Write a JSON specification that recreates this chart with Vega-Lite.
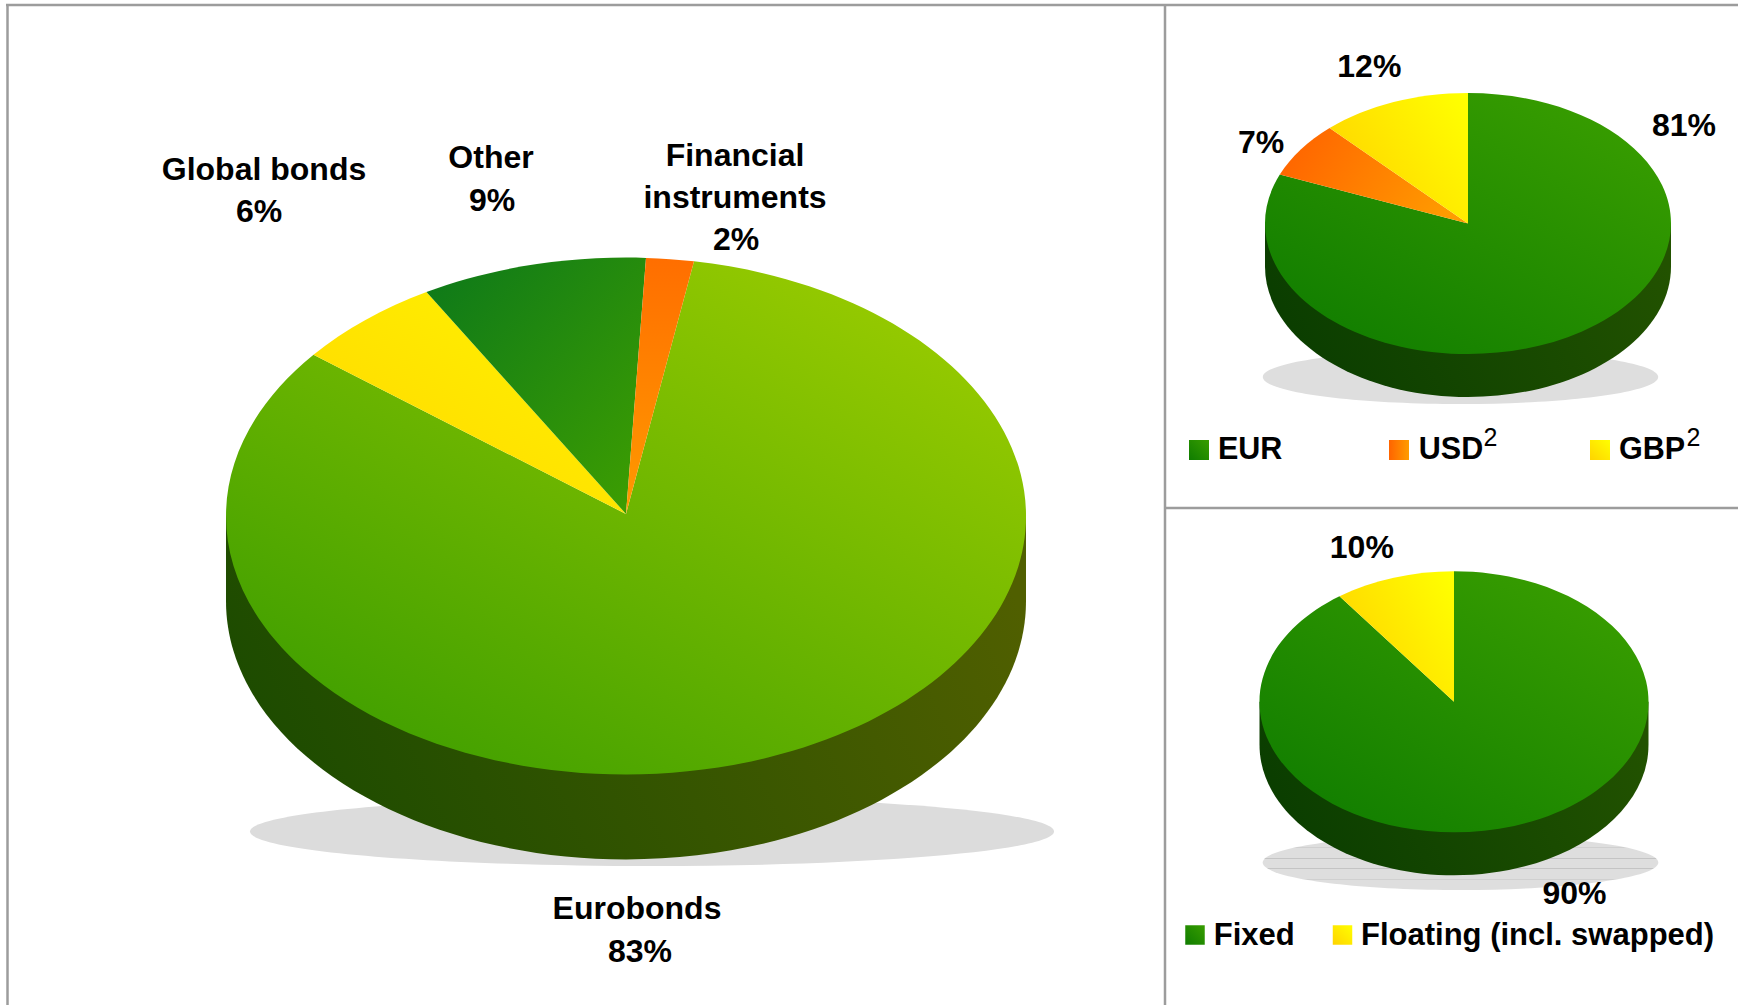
{"$schema":"https://vega.github.io/schema/vega-lite/v6.json","width":1738,"height":1005,"autosize":"none","padding":0,"background":"white","view":{"stroke":null},
"data":{"values":[
{"panel":"Instrument","slice":"Eurobonds","share":0.83},
{"panel":"Instrument","slice":"Global bonds","share":0.06},
{"panel":"Instrument","slice":"Other","share":0.09},
{"panel":"Instrument","slice":"Financial\ninstruments","share":0.02},
{"panel":"Currency","slice":"EUR","share":0.81},
{"panel":"Currency","slice":"USD","share":0.07},
{"panel":"Currency","slice":"GBP","share":0.12},
{"panel":"Rate","slice":"Fixed","share":0.90},
{"panel":"Rate","slice":"Floating (incl. swapped)","share":0.10}
]},
"layer":[
{"data":{"values":[{"part":"shadow"}]},"mark":{"type":"point","filled":true,"opacity":1,"strokeWidth":0,"fill":"#dcdcdc","size":646416,"shape":"M-1,0A1,.0858 0 1 0 1,0A1,.0858 0 1 0 -1,0Z"},"encoding":{"x":{"datum":652,"scale":{"domain":[0,1738]},"axis":null},"y":{"datum":831.5,"scale":{"domain":[1005,0]},"axis":null}}},
{"data":{"values":[{"part":"side"}]},"mark":{"type":"point","filled":true,"opacity":1,"strokeWidth":0,"size":640000,"shape":"M-1,0L-1,.2125A1,.646 0 0 0 1,.2125L1,0Z","fill":{"gradient":"linear","x1":0,"y1":0.5,"x2":1,"y2":0.3,"stops":[{"offset":0,"color":"#1c4b00"},{"offset":1,"color":"#505f00"}]}},"encoding":{"x":{"datum":626,"scale":{"domain":[0,1738]},"axis":null},"y":{"datum":516,"scale":{"domain":[1005,0]},"axis":null}}},
{"transform":[{"filter":{"field":"slice","equal":"Eurobonds"}}],"mark":{"type":"point","filled":true,"opacity":1,"strokeWidth":0,"size":640000,"shape":"M0,-.005L-.78125,-.4032A1,.646 0 1 0 .17,-.6366Z","fill":{"gradient":"linear","x1":0.1,"y1":1,"x2":0.9,"y2":0.1,"stops":[{"offset":0,"color":"#3a9c00"},{"offset":1,"color":"#98cb00"}]}},"encoding":{"x":{"datum":626,"scale":{"domain":[0,1738]},"axis":null},"y":{"datum":516,"scale":{"domain":[1005,0]},"axis":null}}},
{"transform":[{"filter":{"field":"slice","equal":"Global bonds"}}],"mark":{"type":"point","filled":true,"opacity":1,"strokeWidth":0,"size":640000,"shape":"M0,-.005L-.78125,-.4032A1,.646 0 0 1 -.4988,-.5599Z","fill":{"gradient":"linear","x1":0,"y1":1,"x2":1,"y2":0,"stops":[{"offset":0,"color":"#ffd500"},{"offset":1,"color":"#fff500"}]}},"encoding":{"x":{"datum":626,"scale":{"domain":[0,1738]},"axis":null},"y":{"datum":516,"scale":{"domain":[1005,0]},"axis":null}}},
{"transform":[{"filter":{"field":"slice","equal":"Other"}}],"mark":{"type":"point","filled":true,"opacity":1,"strokeWidth":0,"size":640000,"shape":"M0,-.005L-.4988,-.5599A1,.646 0 0 1 .05,-.6452Z","fill":{"gradient":"linear","x1":0,"y1":0,"x2":1,"y2":1,"stops":[{"offset":0,"color":"#0c781a"},{"offset":1,"color":"#3f9f00"}]}},"encoding":{"x":{"datum":626,"scale":{"domain":[0,1738]},"axis":null},"y":{"datum":516,"scale":{"domain":[1005,0]},"axis":null}}},
{"transform":[{"filter":{"field":"slice","equal":"Financial\ninstruments"}}],"mark":{"type":"point","filled":true,"opacity":1,"strokeWidth":0,"size":640000,"shape":"M0,-.005L.05,-.6452A1,.646 0 0 1 .17,-.6366Z","fill":{"gradient":"linear","x1":0,"y1":0,"x2":0,"y2":1,"stops":[{"offset":0,"color":"#ff6e00"},{"offset":1,"color":"#ff9a00"}]}},"encoding":{"x":{"datum":626,"scale":{"domain":[0,1738]},"axis":null},"y":{"datum":516,"scale":{"domain":[1005,0]},"axis":null}}},

{"data":{"values":[{"part":"shadow"}]},"mark":{"type":"point","filled":true,"opacity":1,"strokeWidth":0,"fill":"#dedede","size":156341,"shape":"M-1,0A1,.1366 0 1 0 1,0A1,.1366 0 1 0 -1,0Z"},"encoding":{"x":{"datum":1460.5,"scale":{"domain":[0,1738]},"axis":null},"y":{"datum":377,"scale":{"domain":[1005,0]},"axis":null}}},
{"data":{"values":[{"part":"side"}]},"mark":{"type":"point","filled":true,"opacity":1,"strokeWidth":0,"size":164836,"shape":"M-1,0L-1,.2118A1,.6429 0 0 0 1,.2118L1,0Z","fill":{"gradient":"linear","x1":0,"y1":0.5,"x2":1,"y2":0.3,"stops":[{"offset":0,"color":"#0a3d00"},{"offset":1,"color":"#225200"}]}},"encoding":{"x":{"datum":1468,"scale":{"domain":[0,1738]},"axis":null},"y":{"datum":223.5,"scale":{"domain":[1005,0]},"axis":null}}},
{"transform":[{"filter":{"field":"slice","equal":"EUR"}}],"mark":{"type":"point","filled":true,"opacity":1,"strokeWidth":0,"size":164836,"shape":"M0,0L0,-.6429A1,.6429 0 1 1 -.9271,-.241Z","fill":{"gradient":"linear","x1":0.1,"y1":1,"x2":0.9,"y2":0.1,"stops":[{"offset":0,"color":"#0f7c00"},{"offset":1,"color":"#389d00"}]}},"encoding":{"x":{"datum":1468,"scale":{"domain":[0,1738]},"axis":null},"y":{"datum":223.5,"scale":{"domain":[1005,0]},"axis":null}}},
{"transform":[{"filter":{"field":"slice","equal":"USD"}}],"mark":{"type":"point","filled":true,"opacity":1,"strokeWidth":0,"size":164836,"shape":"M0,0L-.9271,-.241A1,.6429 0 0 1 -.6818,-.4703Z","fill":{"gradient":"linear","x1":0,"y1":0.3,"x2":1,"y2":0.6,"stops":[{"offset":0,"color":"#ff6400"},{"offset":1,"color":"#ff9c00"}]}},"encoding":{"x":{"datum":1468,"scale":{"domain":[0,1738]},"axis":null},"y":{"datum":223.5,"scale":{"domain":[1005,0]},"axis":null}}},
{"transform":[{"filter":{"field":"slice","equal":"GBP"}}],"mark":{"type":"point","filled":true,"opacity":1,"strokeWidth":0,"size":164836,"shape":"M0,0L-.6818,-.4703A1,.6429 0 0 1 0,-.6429Z","fill":{"gradient":"linear","x1":0,"y1":0.7,"x2":1,"y2":0.1,"stops":[{"offset":0,"color":"#ffd300"},{"offset":1,"color":"#ffff00"}]}},"encoding":{"x":{"datum":1468,"scale":{"domain":[0,1738]},"axis":null},"y":{"datum":223.5,"scale":{"domain":[1005,0]},"axis":null}}},

{"data":{"values":[{"part":"shadow"}]},"mark":{"type":"point","filled":true,"opacity":1,"strokeWidth":0,"size":156500,"shape":"M-1,0A1,.139 0 1 0 1,0A1,.139 0 1 0 -1,0Z","fill":{"gradient":"linear","x1":0,"y1":0,"x2":0,"y2":1,"stops":[{"offset":0,"color":"#dedede"},{"offset":0.225,"color":"#dedede"},{"offset":0.225,"color":"#d0d0d0"},{"offset":0.24,"color":"#d0d0d0"},{"offset":0.24,"color":"#dedede"},{"offset":0.415,"color":"#dedede"},{"offset":0.415,"color":"#c4c4c4"},{"offset":0.435,"color":"#c4c4c4"},{"offset":0.435,"color":"#dedede"},{"offset":0.6,"color":"#dedede"},{"offset":0.6,"color":"#c4c4c4"},{"offset":0.62,"color":"#c4c4c4"},{"offset":0.62,"color":"#dedede"},{"offset":0.795,"color":"#dedede"},{"offset":0.795,"color":"#d0d0d0"},{"offset":0.81,"color":"#d0d0d0"},{"offset":0.81,"color":"#dedede"},{"offset":1,"color":"#dedede"}]}},"encoding":{"x":{"datum":1460.5,"scale":{"domain":[0,1738]},"axis":null},"y":{"datum":862.5,"scale":{"domain":[1005,0]},"axis":null}}},
{"data":{"values":[{"part":"side"}]},"mark":{"type":"point","filled":true,"opacity":1,"strokeWidth":0,"size":151321,"shape":"M-1,0L-1,.2211A1,.671 0 0 0 1,.2211L1,0Z","fill":{"gradient":"linear","x1":0,"y1":0.5,"x2":1,"y2":0.3,"stops":[{"offset":0,"color":"#0a3d00"},{"offset":1,"color":"#225200"}]}},"encoding":{"x":{"datum":1454,"scale":{"domain":[0,1738]},"axis":null},"y":{"datum":701.8,"scale":{"domain":[1005,0]},"axis":null}}},
{"transform":[{"filter":{"field":"slice","equal":"Fixed"}}],"mark":{"type":"point","filled":true,"opacity":1,"strokeWidth":0,"size":151321,"shape":"M0,0L0,-.671A1,.671 0 1 1 -.5887,-.5424Z","fill":{"gradient":"linear","x1":0.1,"y1":1,"x2":0.9,"y2":0.1,"stops":[{"offset":0,"color":"#0f7c00"},{"offset":1,"color":"#389d00"}]}},"encoding":{"x":{"datum":1454,"scale":{"domain":[0,1738]},"axis":null},"y":{"datum":701.8,"scale":{"domain":[1005,0]},"axis":null}}},
{"transform":[{"filter":{"field":"slice","equal":"Floating (incl. swapped)"}}],"mark":{"type":"point","filled":true,"opacity":1,"strokeWidth":0,"size":151321,"shape":"M0,0L-.5887,-.5424A1,.671 0 0 1 0,-.671Z","fill":{"gradient":"linear","x1":0,"y1":0.7,"x2":1,"y2":0.1,"stops":[{"offset":0,"color":"#ffd300"},{"offset":1,"color":"#ffff00"}]}},"encoding":{"x":{"datum":1454,"scale":{"domain":[0,1738]},"axis":null},"y":{"datum":701.8,"scale":{"domain":[1005,0]},"axis":null}}},

{"transform":[{"filter":{"field":"slice","equal":"Global bonds"}}],"mark":{"type":"text","font":"Liberation Sans","fontWeight":"bold","fontSize":32,"align":"center","baseline":"alphabetic","color":"black"},"encoding":{"text":{"field":"slice"},"x":{"datum":264,"scale":{"domain":[0,1738]},"axis":null},"y":{"datum":180,"scale":{"domain":[1005,0]},"axis":null}}},
{"transform":[{"filter":{"field":"slice","equal":"Global bonds"}}],"mark":{"type":"text","font":"Liberation Sans","fontWeight":"bold","fontSize":32,"align":"center","baseline":"alphabetic","color":"black"},"encoding":{"text":{"field":"share","format":".0%"},"x":{"datum":259,"scale":{"domain":[0,1738]},"axis":null},"y":{"datum":221.7,"scale":{"domain":[1005,0]},"axis":null}}},
{"transform":[{"filter":{"field":"slice","equal":"Other"}}],"mark":{"type":"text","font":"Liberation Sans","fontWeight":"bold","fontSize":32,"align":"center","baseline":"alphabetic","color":"black"},"encoding":{"text":{"field":"slice"},"x":{"datum":491,"scale":{"domain":[0,1738]},"axis":null},"y":{"datum":167.7,"scale":{"domain":[1005,0]},"axis":null}}},
{"transform":[{"filter":{"field":"slice","equal":"Other"}}],"mark":{"type":"text","font":"Liberation Sans","fontWeight":"bold","fontSize":32,"align":"center","baseline":"alphabetic","color":"black"},"encoding":{"text":{"field":"share","format":".0%"},"x":{"datum":492,"scale":{"domain":[0,1738]},"axis":null},"y":{"datum":211,"scale":{"domain":[1005,0]},"axis":null}}},
{"transform":[{"filter":{"field":"slice","equal":"Financial\ninstruments"}}],"mark":{"type":"text","font":"Liberation Sans","fontWeight":"bold","fontSize":32,"align":"center","baseline":"alphabetic","color":"black","lineBreak":"\n","lineHeight":41.7},"encoding":{"text":{"field":"slice"},"x":{"datum":735,"scale":{"domain":[0,1738]},"axis":null},"y":{"datum":166,"scale":{"domain":[1005,0]},"axis":null}}},
{"transform":[{"filter":{"field":"slice","equal":"Financial\ninstruments"}}],"mark":{"type":"text","font":"Liberation Sans","fontWeight":"bold","fontSize":32,"align":"center","baseline":"alphabetic","color":"black"},"encoding":{"text":{"field":"share","format":".0%"},"x":{"datum":736,"scale":{"domain":[0,1738]},"axis":null},"y":{"datum":250,"scale":{"domain":[1005,0]},"axis":null}}},
{"transform":[{"filter":{"field":"slice","equal":"Eurobonds"}}],"mark":{"type":"text","font":"Liberation Sans","fontWeight":"bold","fontSize":32,"align":"center","baseline":"alphabetic","color":"black"},"encoding":{"text":{"field":"slice"},"x":{"datum":637,"scale":{"domain":[0,1738]},"axis":null},"y":{"datum":919.3,"scale":{"domain":[1005,0]},"axis":null}}},
{"transform":[{"filter":{"field":"slice","equal":"Eurobonds"}}],"mark":{"type":"text","font":"Liberation Sans","fontWeight":"bold","fontSize":32,"align":"center","baseline":"alphabetic","color":"black"},"encoding":{"text":{"field":"share","format":".0%"},"x":{"datum":640,"scale":{"domain":[0,1738]},"axis":null},"y":{"datum":961.7,"scale":{"domain":[1005,0]},"axis":null}}},

{"transform":[{"filter":{"field":"slice","equal":"GBP"}}],"mark":{"type":"text","font":"Liberation Sans","fontWeight":"bold","fontSize":32,"align":"center","baseline":"alphabetic","color":"black"},"encoding":{"text":{"field":"share","format":".0%"},"x":{"datum":1369.3,"scale":{"domain":[0,1738]},"axis":null},"y":{"datum":77.3,"scale":{"domain":[1005,0]},"axis":null}}},
{"transform":[{"filter":{"field":"slice","equal":"USD"}}],"mark":{"type":"text","font":"Liberation Sans","fontWeight":"bold","fontSize":32,"align":"center","baseline":"alphabetic","color":"black"},"encoding":{"text":{"field":"share","format":".0%"},"x":{"datum":1261,"scale":{"domain":[0,1738]},"axis":null},"y":{"datum":153,"scale":{"domain":[1005,0]},"axis":null}}},
{"transform":[{"filter":{"field":"slice","equal":"EUR"}}],"mark":{"type":"text","font":"Liberation Sans","fontWeight":"bold","fontSize":32,"align":"center","baseline":"alphabetic","color":"black"},"encoding":{"text":{"field":"share","format":".0%"},"x":{"datum":1684,"scale":{"domain":[0,1738]},"axis":null},"y":{"datum":135.7,"scale":{"domain":[1005,0]},"axis":null}}},
{"transform":[{"filter":{"field":"slice","equal":"Floating (incl. swapped)"}}],"mark":{"type":"text","font":"Liberation Sans","fontWeight":"bold","fontSize":32,"align":"center","baseline":"alphabetic","color":"black"},"encoding":{"text":{"field":"share","format":".0%"},"x":{"datum":1361.8,"scale":{"domain":[0,1738]},"axis":null},"y":{"datum":558.3,"scale":{"domain":[1005,0]},"axis":null}}},
{"transform":[{"filter":{"field":"slice","equal":"Fixed"}}],"mark":{"type":"text","font":"Liberation Sans","fontWeight":"bold","fontSize":32,"align":"center","baseline":"alphabetic","color":"black"},"encoding":{"text":{"field":"share","format":".0%"},"x":{"datum":1574.5,"scale":{"domain":[0,1738]},"axis":null},"y":{"datum":904.3,"scale":{"domain":[1005,0]},"axis":null}}},

{"transform":[{"filter":{"field":"slice","equal":"EUR"}}],"mark":{"type":"point","shape":"square","filled":true,"opacity":1,"strokeWidth":0,"size":400,"fill":{"gradient":"linear","x1":0,"y1":1,"x2":1,"y2":0,"stops":[{"offset":0,"color":"#0f7c00"},{"offset":1,"color":"#389d00"}]}},"encoding":{"x":{"datum":1199,"scale":{"domain":[0,1738]},"axis":null},"y":{"datum":450,"scale":{"domain":[1005,0]},"axis":null}}},
{"transform":[{"filter":{"field":"slice","equal":"USD"}}],"mark":{"type":"point","shape":"square","filled":true,"opacity":1,"strokeWidth":0,"size":400,"fill":{"gradient":"linear","x1":0,"y1":0,"x2":1,"y2":0,"stops":[{"offset":0,"color":"#ff6400"},{"offset":1,"color":"#ff9c00"}]}},"encoding":{"x":{"datum":1399,"scale":{"domain":[0,1738]},"axis":null},"y":{"datum":450,"scale":{"domain":[1005,0]},"axis":null}}},
{"transform":[{"filter":{"field":"slice","equal":"GBP"}}],"mark":{"type":"point","shape":"square","filled":true,"opacity":1,"strokeWidth":0,"size":400,"fill":{"gradient":"linear","x1":0,"y1":1,"x2":1,"y2":0,"stops":[{"offset":0,"color":"#ffd300"},{"offset":1,"color":"#ffff00"}]}},"encoding":{"x":{"datum":1600,"scale":{"domain":[0,1738]},"axis":null},"y":{"datum":450,"scale":{"domain":[1005,0]},"axis":null}}},
{"transform":[{"filter":{"field":"slice","equal":"Fixed"}}],"mark":{"type":"point","shape":"square","filled":true,"opacity":1,"strokeWidth":0,"size":380,"fill":{"gradient":"linear","x1":0,"y1":1,"x2":1,"y2":0,"stops":[{"offset":0,"color":"#0f7c00"},{"offset":1,"color":"#389d00"}]}},"encoding":{"x":{"datum":1195,"scale":{"domain":[0,1738]},"axis":null},"y":{"datum":935,"scale":{"domain":[1005,0]},"axis":null}}},
{"transform":[{"filter":{"field":"slice","equal":"Floating (incl. swapped)"}}],"mark":{"type":"point","shape":"square","filled":true,"opacity":1,"strokeWidth":0,"size":380,"fill":{"gradient":"linear","x1":0,"y1":1,"x2":1,"y2":0,"stops":[{"offset":0,"color":"#ffd300"},{"offset":1,"color":"#ffff00"}]}},"encoding":{"x":{"datum":1342.5,"scale":{"domain":[0,1738]},"axis":null},"y":{"datum":935,"scale":{"domain":[1005,0]},"axis":null}}},

{"transform":[{"filter":{"field":"slice","equal":"EUR"}}],"mark":{"type":"text","font":"Liberation Sans","fontWeight":"bold","fontSize":30.5,"align":"left","baseline":"alphabetic","color":"black"},"encoding":{"text":{"field":"slice"},"x":{"datum":1218,"scale":{"domain":[0,1738]},"axis":null},"y":{"datum":459,"scale":{"domain":[1005,0]},"axis":null}}},
{"transform":[{"filter":{"field":"slice","equal":"USD"}}],"mark":{"type":"text","font":"Liberation Sans","fontWeight":"bold","fontSize":30.5,"align":"left","baseline":"alphabetic","color":"black"},"encoding":{"text":{"field":"slice"},"x":{"datum":1418.8,"scale":{"domain":[0,1738]},"axis":null},"y":{"datum":459,"scale":{"domain":[1005,0]},"axis":null}}},
{"transform":[{"filter":{"field":"slice","equal":"GBP"}}],"mark":{"type":"text","font":"Liberation Sans","fontWeight":"bold","fontSize":30.5,"align":"left","baseline":"alphabetic","color":"black"},"encoding":{"text":{"field":"slice"},"x":{"datum":1619,"scale":{"domain":[0,1738]},"axis":null},"y":{"datum":459,"scale":{"domain":[1005,0]},"axis":null}}},
{"transform":[{"filter":{"field":"slice","equal":"USD"}}],"mark":{"type":"text","font":"Liberation Sans","fontSize":25,"align":"left","baseline":"alphabetic","color":"black","text":"2"},"encoding":{"x":{"datum":1483.6,"scale":{"domain":[0,1738]},"axis":null},"y":{"datum":445.7,"scale":{"domain":[1005,0]},"axis":null}}},
{"transform":[{"filter":{"field":"slice","equal":"GBP"}}],"mark":{"type":"text","font":"Liberation Sans","fontSize":25,"align":"left","baseline":"alphabetic","color":"black","text":"2"},"encoding":{"x":{"datum":1686.4,"scale":{"domain":[0,1738]},"axis":null},"y":{"datum":445.7,"scale":{"domain":[1005,0]},"axis":null}}},
{"transform":[{"filter":{"field":"slice","equal":"Fixed"}}],"mark":{"type":"text","font":"Liberation Sans","fontWeight":"bold","fontSize":31,"align":"left","baseline":"alphabetic","color":"black"},"encoding":{"text":{"field":"slice"},"x":{"datum":1213.8,"scale":{"domain":[0,1738]},"axis":null},"y":{"datum":945,"scale":{"domain":[1005,0]},"axis":null}}},
{"transform":[{"filter":{"field":"slice","equal":"Floating (incl. swapped)"}}],"mark":{"type":"text","font":"Liberation Sans","fontWeight":"bold","fontSize":31,"align":"left","baseline":"alphabetic","color":"black"},"encoding":{"text":{"field":"slice"},"x":{"datum":1361,"scale":{"domain":[0,1738]},"axis":null},"y":{"datum":945,"scale":{"domain":[1005,0]},"axis":null}}},

{"data":{"values":[{"part":"frame"}]},"mark":{"type":"rule","color":"#9c9c9c","strokeWidth":2.5},"encoding":{"x":{"datum":6,"scale":{"domain":[0,1738]},"axis":null},"x2":{"datum":1738},"y":{"datum":5,"scale":{"domain":[1005,0]},"axis":null}}},
{"data":{"values":[{"part":"frame"}]},"mark":{"type":"rule","color":"#9c9c9c","strokeWidth":2.5},"encoding":{"x":{"datum":7.5,"scale":{"domain":[0,1738]},"axis":null},"y":{"datum":4,"scale":{"domain":[1005,0]},"axis":null},"y2":{"datum":1005}}},
{"data":{"values":[{"part":"frame"}]},"mark":{"type":"rule","color":"#9c9c9c","strokeWidth":2.5},"encoding":{"x":{"datum":1165,"scale":{"domain":[0,1738]},"axis":null},"y":{"datum":4,"scale":{"domain":[1005,0]},"axis":null},"y2":{"datum":1005}}},
{"data":{"values":[{"part":"frame"}]},"mark":{"type":"rule","color":"#9c9c9c","strokeWidth":2.5},"encoding":{"x":{"datum":1165,"scale":{"domain":[0,1738]},"axis":null},"x2":{"datum":1738},"y":{"datum":508,"scale":{"domain":[1005,0]},"axis":null}}}
]}
